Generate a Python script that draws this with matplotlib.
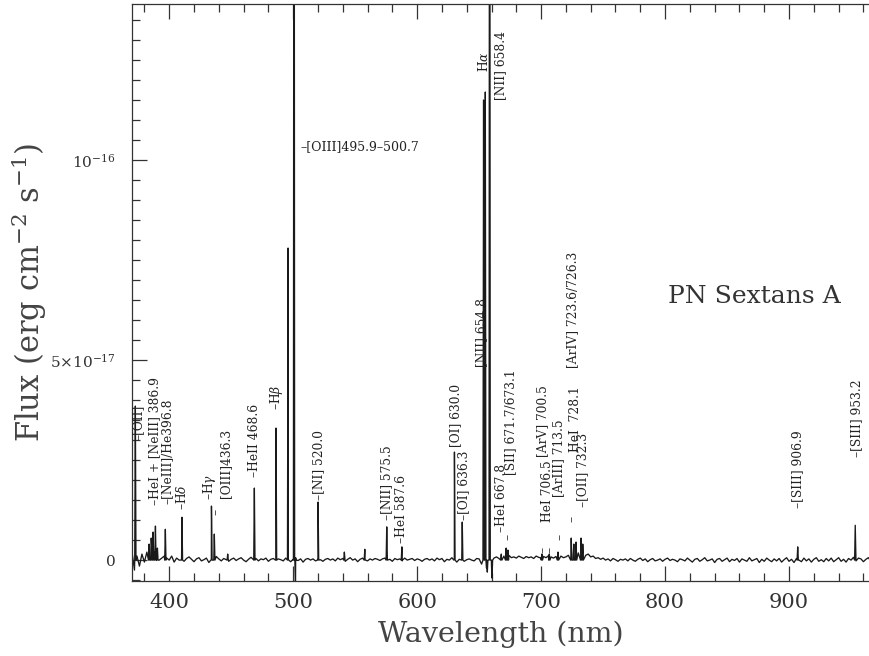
import numpy as np
import matplotlib
matplotlib.use("Agg")
import matplotlib.pyplot as plt
from matplotlib.ticker import MultipleLocator, FixedLocator

plt.rcParams["font.family"] = ["DejaVu Serif"]
plt.rcParams["mathtext.fontset"] = "dejavuserif"

UNIT = 1e-18  # all flux values below are in 1e-18 erg cm-2 s-1

# continuum, sampled every 2 nm from 370 to 966 nm
cont_wave = np.arange(370, 967, 2)
cont_flux = [
    2.0, -2.5, 1.0, -1.5, 1.5, -0.5, 2.0, 1.0, 3.0, 2.0, 1.0, 0.0, 0.5, 1.0, 0.5, 0.0, 1.0, -0.5, 0.5, 0.0,
    0.5, -0.3, 0.4, 0.8, 0.2, -0.4, 0.3, 0.6, -0.2, 0.1, 0.5, -0.6, 0.2, 0.4, 0.9, 0.3, -0.2, 0.4, 0.1, -0.3,
    0.2, 0.5, -0.1, 0.3, 0.6, 0.0, -0.4, 0.2, 0.7, 0.1, 0.4, -0.2, 0.3, 0.1, 0.5, -0.3, 0.2, 0.4, 0.0, 0.3,
    0.1, -0.2, 0.5, 0.3, -0.4, 0.2, 0.6, -0.1, 0.3, -0.5, 0.2, 0.4, 0.0, 0.3, -0.2, 0.5, 0.1, -0.3, 0.2, 0.4,
    0.0, 0.3, -0.2, 0.5, 0.1, 0.4, -0.3, 0.2, 0.6, 0.0, 0.3, -0.4, 0.2, 0.5, 0.1, -0.2, 0.3, 0.0, 0.4, 0.2,
    -0.1, 0.3, 0.5, 0.0, 0.2, -0.3, 0.4, 0.1, 0.3, -0.2, 0.5, 0.0, 0.2, 0.4, -0.1, 0.3, 0.1, -0.3, 0.2, 0.4,
    0.0, 0.3, -0.2, 0.5, 0.1, 0.4, -0.4, 0.2, 0.0, 0.6, 0.3, -0.5, 0.2, 0.4, -0.3, 0.1, 0.3, 0.0, -0.2, 0.4,
    0.3, -1.0, 0.5, -2.0, 0.0, -1.5, 0.5, 0.8, 0.4, 0.6, 1.0, 1.5, 1.2, 0.6, 0.8, 0.5, 1.0, 0.7, 0.4, 0.9,
    0.6, 0.8, 0.4, 1.0, 0.7, 0.5, 0.9, 0.6, 1.1, 0.8, 0.5, 0.9, 0.7, 1.0, 0.6, 0.8, 1.2, 0.9, 1.5, 1.2,
    1.8, 1.5, 2.0, 1.2, 1.5, 0.8, 1.0, 0.4, 0.6, 0.2, 0.5, 0.0, 0.3, -0.2, 0.4, 0.1, -0.3, 0.2, 0.0, 0.3,
    -0.2, 0.4, 0.0, -0.3, 0.2, 0.5, -0.1, 0.3, -0.4, 0.1, 0.4, -0.2, 0.0, 0.3, -0.3, 0.2, 0.5, -0.1, 0.2, 0.0,
    -0.4, 0.3, 0.1, -0.2, 0.5, 0.0, -0.5, 0.2, 0.4, -0.3, 0.1, 0.6, -0.2, 0.0, 0.3, -0.6, 0.2, 0.4, -0.3, 0.1,
    0.5, -0.4, 0.2, -0.1, 0.4, -0.5, 0.3, 0.0, -0.3, 0.6, -0.2, 0.1, 0.4, -0.6, 0.2, -0.3, 0.5, 0.0, -0.4, 0.3,
    -0.2, 0.4, -0.5, 0.1, 0.6, -0.3, 0.2, -0.6, 0.4, 0.0, -0.4, 0.5, -0.2, 0.3, -0.5, 0.2, 0.6, -0.3, 0.1, -0.4,
    0.4, -0.2, 0.5, -0.4, 0.1, 0.6, -0.3, 0.2, -0.5, 0.4, 0.0, 0.7, -0.2, 0.5, 0.3, -0.4, 0.2, 0.6, -0.3,
]

# emission lines (and a few dips): centre wavelength (nm) and peak (1e-18)
line_wave = [372.7, 383.8, 385.5, 387.0, 388.9, 390.5, 396.9, 410.3, 434.1, 436.4,
             447.2, 468.7, 486.2, 495.9, 500.7, 501.9, 520.1, 541.3, 557.8, 575.5,
             587.7, 630.1, 636.4, 653.6, 655.0, 656.6, 658.5, 660.4, 667.9, 671.8,
             673.2, 700.6, 706.6, 713.6, 724.3, 726.4, 728.2, 732.3, 733.6, 907.0,
             953.4]
line_peak = [38.5, 4.0, 5.5, 7.0, 8.5, 3.0, 7.7, 10.7, 13.5, 6.5,
             1.5, 18.0, 33.0, 78.0, 300.0, -7.0, 14.5, 2.0, 2.7, 8.3,
             3.3, 27.0, 9.5, 115.0, 117.0, -3.0, 300.0, -4.5, 1.5, 3.0,
             2.5, 1.5, 1.5, 2.0, 5.5, 4.0, 4.5, 5.5, 4.0, 3.3,
             8.7]

# rotated line identifications: text, wavelength, flux at text bottom (1e-18)
ids_text = ["–[OII]", "–HeI + [NeIII] 386.9", "–[NeIII]/He396.8", "–H$\\delta$",
            "–H$\\gamma$", "–", "[OIII]436.3", "–HeII 468.6", "–H$\\beta$",
            "–[NI] 520.0", "–[NII] 575.5", "–HeI 587.6", "[OI] 630.0",
            "–[OI] 636.3", "[NII] 654.8", "[NII] 658.4", "–HeI 667.8", "–",
            "[SII] 671.7/673.1", "[ArV] 700.5", "HeI 706.5", "[ArIII] 713.5",
            "[ArIV] 723.6/726.3", "HeI  728.1", "–[OII] 732.3", "–", "–", "–",
            "–", "–[SIII] 906.9", "–[SIII] 953.2"]
ids_wave = [374.8, 388.5, 398.0, 410.6,
            432.3, 437.7, 445.8, 469.2, 486.7,
            520.8, 575.6, 587.7, 631.3,
            637.2, 652.0, 667.3, 668.1, 673.5,
            675.6, 700.9, 705.2, 714.0,
            725.6, 727.6, 733.1, 701.8, 707.1, 715.2,
            724.6, 907.3, 954.4]
ids_flux = [30.0, 13.8, 14.0, 12.5,
            15.0, 11.3, 15.5, 20.8, 37.5,
            15.0, 10.0, 4.3, 28.3,
            10.0, 48.3, 115.0, 7.0, 5.0,
            21.3, 25.8, 9.5, 15.8,
            48.0, 27.0, 13.3, 1.8, 1.8, 5.0,
            9.5, 13.0, 25.8]

xticks_major = [400, 500, 600, 700, 800, 900]
yticks_major = [0, 5e-17, 1e-16]
ytick_labels = ["0", r"$5{\times}10^{-17}$", r"$10^{-16}$"]

# merge continuum and line spikes into one trace
half = 0.5
w = list(cont_wave) + line_wave + [c - half for c in line_wave] + [c + half for c in line_wave]
f = list(cont_flux) + line_peak + [0.0] * len(line_wave) * 2
order = np.argsort(w, kind="stable")
wave = np.array(w)[order]
flux = np.array(f)[order] * UNIT

fig = plt.figure(figsize=(8.69, 6.56), dpi=100)
ax = fig.add_axes([132 / 869, 1 - 580.5 / 656, (869 - 132) / 869, (580.5 - 4) / 656])

ax.plot(wave, flux, color="#1a1a1a", lw=0.95)

ax.set_xlim(370, 964.5)
ax.set_ylim(-5.1e-18, 1.39e-16)

ax.xaxis.set_major_locator(FixedLocator(xticks_major))
ax.xaxis.set_minor_locator(MultipleLocator(20))
ax.yaxis.set_major_locator(FixedLocator(yticks_major))
ax.yaxis.set_minor_locator(MultipleLocator(5e-18))
ax.set_yticklabels(ytick_labels)
ax.tick_params(which="both", direction="in", top=True, right=False, color="#333333", width=0.9)
ax.tick_params(which="major", length=11)
ax.tick_params(which="minor", length=6)
ax.tick_params(axis="x", labelsize=15, pad=9, labelcolor="#333333")
ax.tick_params(axis="y", labelsize=11, pad=12, labelcolor="#333333")
ax.spines["right"].set_visible(False)
for s in ["left", "top", "bottom"]:
    ax.spines[s].set_color("#333333")
    ax.spines[s].set_linewidth(0.9)

ax.set_xlabel("Wavelength (nm)", fontsize=20.5, color="#444444", labelpad=6)
ax.set_ylabel(r"Flux (erg cm$^{-2}$ s$^{-1}$)", fontsize=22, color="#444444")
ax.yaxis.set_label_coords(-0.112, 0.5)

for t, x, y in zip(ids_text, ids_wave, ids_flux):
    ax.text(x, y * UNIT, t, rotation=90, ha="center", va="bottom", fontsize=8.8, color="#222222")

ax.text(653.9, 124.5 * UNIT, r"H$\alpha$", rotation=90, ha="center", va="center", fontsize=8.8, color="#222222")
ax.text(506.0, 103.3 * UNIT, "–[OIII]495.9–500.7", ha="left", va="center", fontsize=9, color="#222222")
ax.text(802.0, 66.0 * UNIT, "PN Sextans A", ha="left", va="center", fontsize=18, color="#333333")

fig.savefig("out.png", dpi=100)
